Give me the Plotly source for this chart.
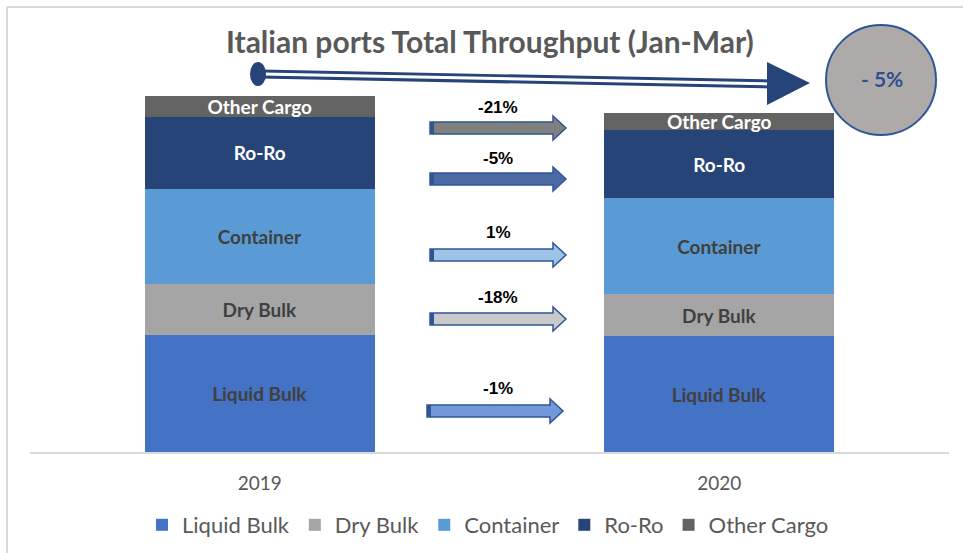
import plotly.graph_objects as go

# ---- data (million tonnes) ----
years = ["2019", "2020"]
segments = ["Liquid Bulk", "Dry Bulk", "Container", "Ro-Ro", "Other Cargo"]
liquid_bulk = [39.4, 39.0]
dry_bulk = [17.2, 14.1]
container = [32.0, 32.3]
ro_ro = [24.3, 23.1]
other_cargo = [7.1, 5.6]
change_labels = ["-1%", "-18%", "1%", "-5%", "-21%"]   # same order as segments
total_change_label = "- 5%"
title_text = "Italian ports Total Throughput (Jan-Mar)"

series = [liquid_bulk, dry_bulk, container, ro_ro, other_cargo]
colors = ["#4472C4", "#A5A5A5", "#5B9BD5", "#264478", "#636363"]
text_colors = ["#404040", "#404040", "#404040", "#FFFFFF", "#FFFFFF"]
arrow_fills = ["#7098DA", "#C9C9C9", "#9DC3E6", "#4C6AA3", "#808080"]

W, H = 963, 553
ML, MR, MT, MB = 30, 14, 60, 101
PW, PH = W - ML - MR, H - MT - MB


def px(x):
    return (x - ML) / PW


def py(y):
    return (H - MB - y) / PH


fig = go.Figure()
for name, vals, col, tcol in zip(segments, series, colors, text_colors):
    fig.add_trace(go.Bar(
        x=years, y=vals, name=name, marker=dict(color=col, line=dict(width=0)),
        text=[name] * len(vals), texttemplate="%{text}", textposition="inside",
        insidetextanchor="middle", textangle=0,
        textfont=dict(family="Lato", size=19, color=tcol, weight="bold"),
        hoverinfo="skip",
    ))

shapes = []
# chart frame (top and left edges visible)
shapes.append(dict(type="line", xref="paper", yref="paper", x0=px(7), x1=px(970), y0=py(7), y1=py(7),
                   line=dict(color="#D9D9D9", width=2)))
shapes.append(dict(type="line", xref="paper", yref="paper", x0=px(7), x1=px(7), y0=py(7), y1=py(560),
                   line=dict(color="#D9D9D9", width=2)))

# big trend arrow
shapes.append(dict(type="line", xref="paper", yref="paper", x0=px(260), x1=px(772), y0=py(74), y1=py(84),
                   line=dict(color="#264478", width=9)))
shapes.append(dict(type="line", xref="paper", yref="paper", x0=px(262), x1=px(772), y0=py(74), y1=py(84),
                   line=dict(color="#FFFFFF", width=3)))
shapes.append(dict(type="circle", xref="paper", yref="paper", x0=px(250), x1=px(266), y0=py(62), y1=py(86),
                   fillcolor="#264478", line=dict(width=0)))


def path(points):
    return "M " + " L ".join(f"{px(a):.5f},{py(b):.5f}" for a, b in points) + " Z"


shapes.append(dict(type="path", xref="paper", yref="paper",
                   path=path([(767, 62), (810, 83), (767, 105)]),
                   fillcolor="#264478", line=dict(width=0)))
# total circle
shapes.append(dict(type="circle", xref="paper", yref="paper", x0=px(826), x1=px(936), y0=py(25), y1=py(135),
                   fillcolor="#AEAAAA", line=dict(color="#2F5597", width=2)))

# small change arrows
arrow_y = [411, 319, 255, 179, 128]
arrow_x = [(427, 563), (430, 566), (430, 566), (430, 566), (430, 566)]
label_y = [388, 297, 232, 158, 107]
annotations = []
for yc, (x0, x1), fill, lab, ly in zip(arrow_y, arrow_x, arrow_fills, change_labels, label_y):
    hx = x1 - 13
    pts = [(x0, yc - 6), (hx, yc - 6), (hx, yc - 12), (x1, yc), (hx, yc + 12), (hx, yc + 6), (x0, yc + 6)]
    shapes.append(dict(type="path", xref="paper", yref="paper", path=path(pts),
                       fillcolor=fill, line=dict(color="#2F5597", width=1.5)))
    shapes.append(dict(type="rect", xref="paper", yref="paper", x0=px(x0), x1=px(x0 + 4),
                       y0=py(yc - 6), y1=py(yc + 6), fillcolor="#2F5597", line=dict(width=0)))
    annotations.append(dict(xref="paper", yref="paper", x=px(498), y=py(ly), text=f"<b>{lab}</b>",
                            showarrow=False, font=dict(family="Liberation Sans", size=17, color="#000000"),
                            xanchor="center", yanchor="middle"))

annotations.append(dict(xref="paper", yref="paper", x=px(882), y=py(79), text=f"<b>{total_change_label}</b>",
                        showarrow=False, font=dict(family="Lato", size=21, color="#2F4F8F"),
                        xanchor="center", yanchor="middle"))
annotations.append(dict(xref="paper", yref="paper", x=px(490), y=py(41), text=f"<b>{title_text}</b>",
                        showarrow=False, font=dict(family="Lato", size=30, color="#595959"),
                        xanchor="center", yanchor="middle"))

fig.update_layout(
    width=W, height=H,
    margin=dict(l=ML, r=MR, t=MT, b=MB, autoexpand=False),
    barmode="stack", bargap=0.5,
    plot_bgcolor="white", paper_bgcolor="white",
    showlegend=True,
    legend=dict(orientation="h", x=px(488), xanchor="center", yref="container", y=1 - 525 / H,
                yanchor="middle",
                font=dict(family="Lato", size=22, color="#595959"), traceorder="normal"),
    xaxis=dict(showline=True, linecolor="#D9D9D9", linewidth=2, ticks="outside", ticklen=13,
               tickcolor="rgba(0,0,0,0)", tickfont=dict(family="Lato", size=19, color="#595959")),
    yaxis=dict(range=[0, 132], visible=False, showgrid=False),
    shapes=shapes, annotations=annotations,
    uniformtext=dict(minsize=19, mode="show"),
)

fig.write_html("out.html", config={"displayModeBar": False},
               post_script="document.body.style.margin='0';document.body.style.overflow='hidden';")
